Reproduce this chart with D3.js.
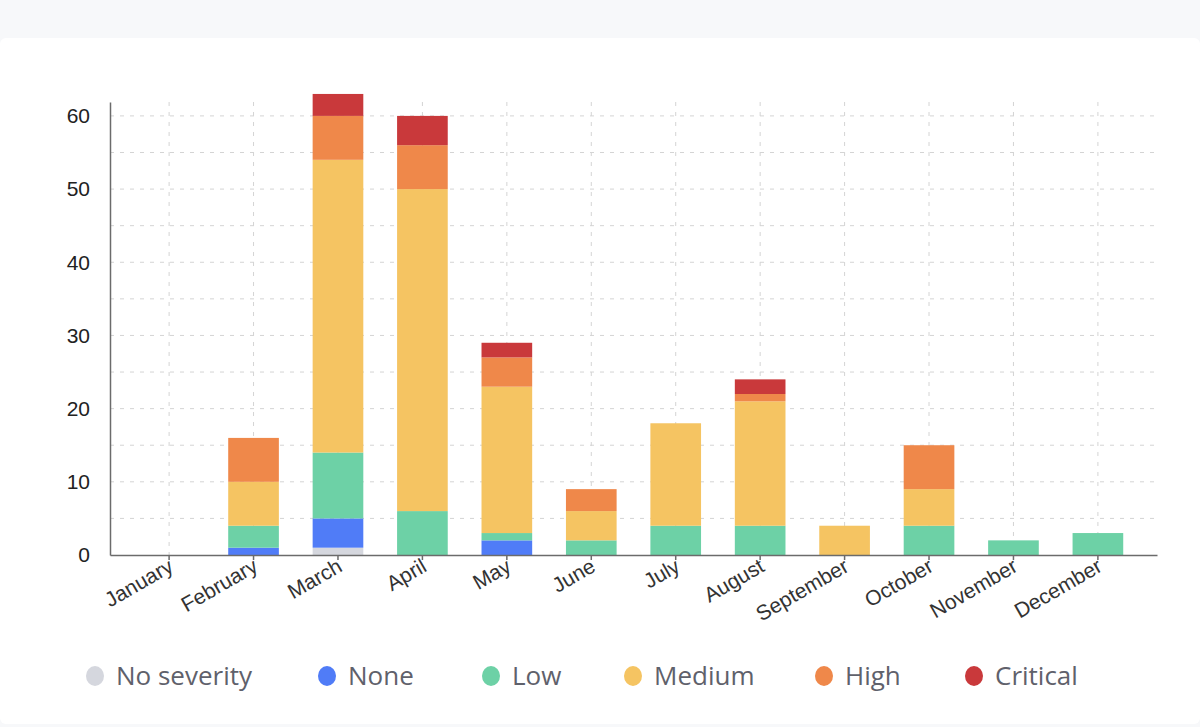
<!DOCTYPE html>
<html>
<head>
<meta charset="utf-8">
<script src="https://cdn.jsdelivr.net/npm/d3@7"></script>
<style>
  html, body { margin: 0; padding: 0; background: #f7f8fa; }
  #card { position: absolute; left: 0; top: 38px; width: 1200px; height: 686px; background: #fff; border-radius: 6px; }
  svg { position: absolute; left: 0; top: 0; }
</style>
</head>
<body>
<div id="card"></div>
<div id="chart"></div>
<script>
const months = ["January", "February", "March", "April", "May", "June", "July",
  "August", "September", "October", "November", "December"];
const severities = ["No severity", "None", "Low", "Medium", "High", "Critical"];
const colors = ["#d5d7de", "#507cf7", "#6dd1a6", "#f5c462", "#ef884a", "#c9393b"];

// counts per month for each severity
const noSeverity = [0, 0, 1, 0, 0, 0, 0, 0, 0, 0, 0, 0];
const none       = [0, 1, 4, 0, 2, 0, 0, 0, 0, 0, 0, 0];
const low        = [0, 3, 9, 6, 1, 2, 4, 4, 0, 4, 2, 3];
const medium     = [0, 6, 40, 44, 20, 4, 14, 17, 4, 5, 0, 0];
const high       = [0, 6, 6, 6, 4, 3, 0, 1, 0, 6, 0, 0];
const critical   = [0, 0, 3, 4, 2, 0, 0, 2, 0, 0, 0, 0];
const yTicks = [0, 10, 20, 30, 40, 50, 60];

const series = [noSeverity, none, low, medium, high, critical];
const rows = months.map((m, i) => {
  const r = { month: m };
  severities.forEach((s, j) => (r[s] = series[j][i]));
  return r;
});
const stacked = d3.stack().keys(severities)(rows);

const W = 1200, H = 727;
const plotLeft = 110, plotRight = 1157, plotTop = 102, plotBottom = 555;

const svg = d3.select("#chart").append("svg").attr("width", W).attr("height", H);

const x = d3.scaleBand().domain(months).range([plotLeft, plotRight])
  .paddingInner(0.4).paddingOuter(0.4);
const y = d3.scaleLinear().domain([0, 61.9]).range([plotBottom, plotTop]);

// grid
const grid = svg.append("g").attr("stroke", "#d4d4d4").attr("stroke-dasharray", "4,6");
grid.selectAll(".h").data(d3.range(5, 61, 5)).join("line")
  .attr("x1", plotLeft).attr("x2", plotRight)
  .attr("y1", d => y(d)).attr("y2", d => y(d));
grid.selectAll(".v").data(months).join("line")
  .attr("x1", d => x(d) + x.bandwidth() / 2).attr("x2", d => x(d) + x.bandwidth() / 2)
  .attr("y1", plotTop).attr("y2", plotBottom);

// bars
svg.append("g").selectAll("g").data(stacked).join("g")
  .attr("fill", (d, i) => colors[i])
  .selectAll("rect").data(d => d).join("rect")
  .attr("x", d => x(d.data.month))
  .attr("width", x.bandwidth())
  .attr("y", d => y(d[1]))
  .attr("height", d => y(d[0]) - y(d[1]));

// axes
const xAxis = svg.append("g").attr("transform", `translate(0,${plotBottom})`)
  .call(d3.axisBottom(x).tickSize(5).tickSizeOuter(0));
xAxis.select(".domain").attr("stroke", "#6b6b6b").attr("stroke-width", 1.5);
xAxis.selectAll(".tick line").attr("stroke", "#6b6b6b").attr("stroke-width", 1.5);
xAxis.selectAll(".tick text")
  .attr("font-family", "Liberation Sans, Arial, sans-serif")
  .attr("font-size", 21).attr("fill", "#333")
  .attr("text-anchor", "end")
  .attr("y", 0)
  .attr("dy", "0.35em")
  .attr("transform", "translate(2,9) rotate(-30)");

const yAxis = svg.append("g").attr("transform", `translate(${plotLeft},0)`)
  .call(d3.axisLeft(y).tickValues(yTicks).tickSize(0).tickPadding(20));
yAxis.select(".domain").attr("stroke", "#6b6b6b").attr("stroke-width", 1.5);
yAxis.selectAll(".tick text")
  .attr("font-family", "Liberation Sans, Arial, sans-serif")
  .attr("font-size", 21).attr("fill", "#222");

// legend
const legendX = [95, 327, 491, 633, 824, 974];
const legend = svg.append("g").selectAll("g").data(severities).join("g")
  .attr("transform", (d, i) => `translate(${legendX[i]},676)`);
legend.append("ellipse").attr("rx", 9).attr("ry", 10)
  .attr("fill", (d, i) => colors[i]);
legend.append("text").attr("x", 21).attr("dy", "0.35em")
  .attr("font-family", "Open Sans, sans-serif").attr("font-size", 26)
  .attr("fill", "#5f616b").text(d => d);
</script>
</body>
</html>
